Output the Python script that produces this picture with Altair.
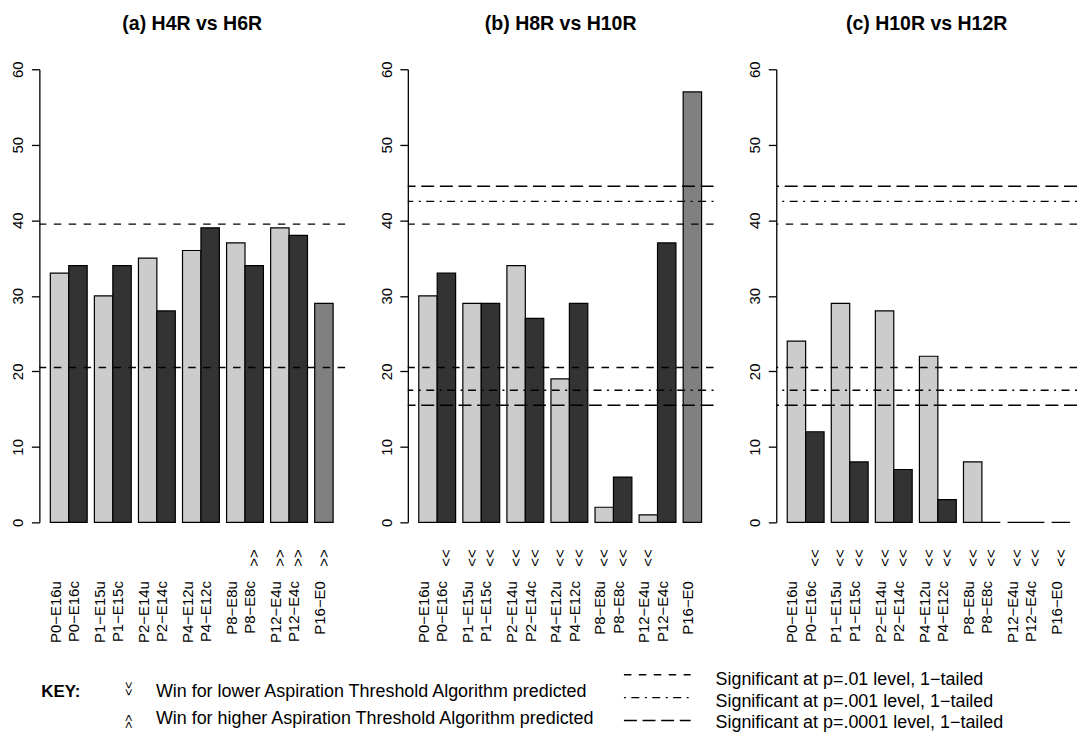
import altair as alt
import pandas as pd

FONT = "Liberation Sans, Arial, Helvetica, sans-serif"

# ---------------- data ----------------
bar_names = ["P0\u2212E16u", "P0\u2212E16c", "P1\u2212E15u", "P1\u2212E15c", "P2\u2212E14u", "P2\u2212E14c",
             "P4\u2212E12u", "P4\u2212E12c", "P8\u2212E8u", "P8\u2212E8c", "P12\u2212E4u", "P12\u2212E4c", "P16\u2212E0"]
groups = ["P0", "P0", "P1", "P1", "P2", "P2", "P4", "P4", "P8", "P8", "P12", "P12", "P16"]
group_order = ["P0", "P1", "P2", "P4", "P8", "P12", "P16"]
subs = ["u", "c"] * 6 + ["u"]
kinds = ["u", "c"] * 6 + ["e"]

titles = ["(a) H4R vs H6R", "(b) H8R vs H10R", "(c) H10R vs H12R"]
values_a = [33, 34, 30, 34, 35, 28, 36, 39, 37, 34, 39, 38, 29]
values_b = [30, 33, 29, 29, 34, 27, 19, 29, 2, 6, 1, 37, 57]
values_c = [24, 12, 29, 8, 28, 7, 22, 3, 8, 0, 0, 0, 0]
markers_a = ["", "", "", "", "", "", "", "", "", ">>", ">>", ">>", ">>"]
markers_b = ["", "<<", "<<", "<<", "<<", "<<", "<<", "<<", "<<", "<<", "<<", "", ""]
markers_c = ["", "<<", "<<", "<<", "<<", "<<", "<<", "<<", "<<", "<<", "<<", "<<", "<<"]

thr_a = [39.5, 20.5]
lev_a = ["p01", "p01"]
thr_bc = [44.5, 42.5, 39.5, 20.5, 17.5, 15.5]
lev_bc = ["p0001", "p001", "p01", "p01", "p001", "p0001"]

level_domain = ["p01", "p001", "p0001"]
level_dashes = [[7.5, 7.5], [2, 5.5, 8, 5.5], [13, 5.7]]

key_sym = ["<<", ">>"]
key_sym_text = ["Win for lower Aspiration Threshold Algorithm predicted",
                "Win for higher Aspiration Threshold Algorithm predicted"]
key_line_text = ["Significant at p=.01 level, 1\u2212tailed",
                 "Significant at p=.001 level, 1\u2212tailed",
                 "Significant at p=.0001 level, 1\u2212tailed"]

H = 455

y_axis = alt.Axis(values=[0, 10, 20, 30, 40, 50, 60], title=None, labelAngle=270, tickSize=8,
                  labelPadding=5.5, grid=False, domainColor="black", tickColor="black",
                  labelColor="black", labelFontSize=15, labelFont=FONT, domainWidth=1.3,
                  tickWidth=1.3)


def panel(title, values, markers, thr, lev, width):
    df = pd.DataFrame({"name": bar_names, "grp": groups, "sub": subs, "kind": kinds,
                       "value": values, "marker": markers})
    tdf = pd.DataFrame({"thr": thr, "level": lev})
    x = alt.X("grp:N", sort=group_order, axis=None,
              scale=alt.Scale(range=[11, 313.5], paddingInner=0.1638, paddingOuter=0))
    xo = alt.XOffset("sub:N", sort=["u", "c"],
                     scale=alt.Scale(domain=["u", "c"], paddingInner=0, paddingOuter=0))
    yscale = alt.Scale(domain=[0, 60], nice=False)
    bars = alt.Chart(df).mark_bar(stroke="black", strokeWidth=1.2).encode(
        x=x, xOffset=xo,
        y=alt.Y("value:Q", scale=yscale, axis=y_axis),
        color=alt.Color("kind:N", scale=alt.Scale(domain=["u", "c", "e"],
                                                  range=["#cccccc", "#333333", "#808080"]),
                        legend=None),
    )
    rules = alt.Chart(tdf).mark_rule(color="black", strokeWidth=1.4).encode(
        y=alt.Y("thr:Q", scale=yscale, axis=y_axis),
        strokeDash=alt.StrokeDash("level:N", scale=alt.Scale(domain=level_domain, range=level_dashes),
                                  legend=None),
    )
    labels = alt.Chart(df).mark_text(angle=270, align="right", baseline="middle", fontSize=15,
                                     font=FONT, dy=-4, color="black").encode(
        x=x, xOffset=xo, y=alt.value(H + 59), text="name:N")
    marks = alt.Chart(df).transform_filter("datum.marker != ''").mark_text(
        angle=270, align="right", baseline="middle", fontSize=15, font=FONT, color="black").encode(
        x=x, xOffset=xo, y=alt.value(H + 27), text="marker:N")
    return alt.layer(bars, rules, labels, marks).properties(
        width=width, height=H,
        title=alt.TitleParams(text=title, frame="group", anchor="middle", fontSize=19.6, font=FONT,
                              fontWeight="bold", color="black", baseline="alphabetic", offset=11))


pa = panel(titles[0], values_a, markers_a, thr_a, lev_a, 307)
pb = panel(titles[1], values_b, markers_b, thr_bc, lev_bc, 307)
pc = panel(titles[2], values_c, markers_c, thr_bc, lev_bc, 302)
row = alt.hconcat(pa, pb, pc, spacing=33)

# ---------------- key ----------------
KX = 29  # key origin sits at the first plot's left edge
one = pd.DataFrame({"k": [0]})
key_layers = []
key_layers.append(alt.Chart(one).mark_text(align="left", baseline="middle", fontSize=17, font=FONT,
                                           fontWeight="bold", color="black", text="KEY:").encode(
    x=alt.value(31 - KX), y=alt.value(30)))
sym_y = [27, 60]
txt_y = [30, 57]
for i in range(2):
    key_layers.append(alt.Chart(pd.DataFrame({"t": [key_sym[i]]})).mark_text(
        angle=270, align="center", baseline="middle", fontSize=12, font=FONT, color="black").encode(
        x=alt.value(119 - KX), y=alt.value(sym_y[i]), text="t:N"))
    key_layers.append(alt.Chart(pd.DataFrame({"t": [key_sym_text[i]]})).mark_text(
        align="left", baseline="middle", fontSize=18, font=FONT, color="black").encode(
        x=alt.value(146 - KX), y=alt.value(txt_y[i]), text="t:N"))
line_y = [13, 36, 59]
ltxt_y = [18, 40, 62]
for i in range(3):
    key_layers.append(alt.Chart(one).mark_rule(color="black", strokeWidth=1.4,
                                               strokeDash=level_dashes[i]).encode(
        x=alt.value(616 - KX), x2=alt.value(683 - KX), y=alt.value(line_y[i])))
    key_layers.append(alt.Chart(pd.DataFrame({"t": [key_line_text[i]]})).mark_text(
        align="left", baseline="middle", fontSize=18, font=FONT, color="black").encode(
        x=alt.value(708 - KX), y=alt.value(ltxt_y[i]), text="t:N"))
key = alt.layer(*key_layers).properties(width=980, height=66)

chart = alt.vconcat(row, key, spacing=18).properties(
    padding={"left": 2.5, "top": 5, "right": 0, "bottom": 0}
).configure_view(stroke=None)

chart.save("out.html", embed_options={"renderer": "svg", "actions": False})
